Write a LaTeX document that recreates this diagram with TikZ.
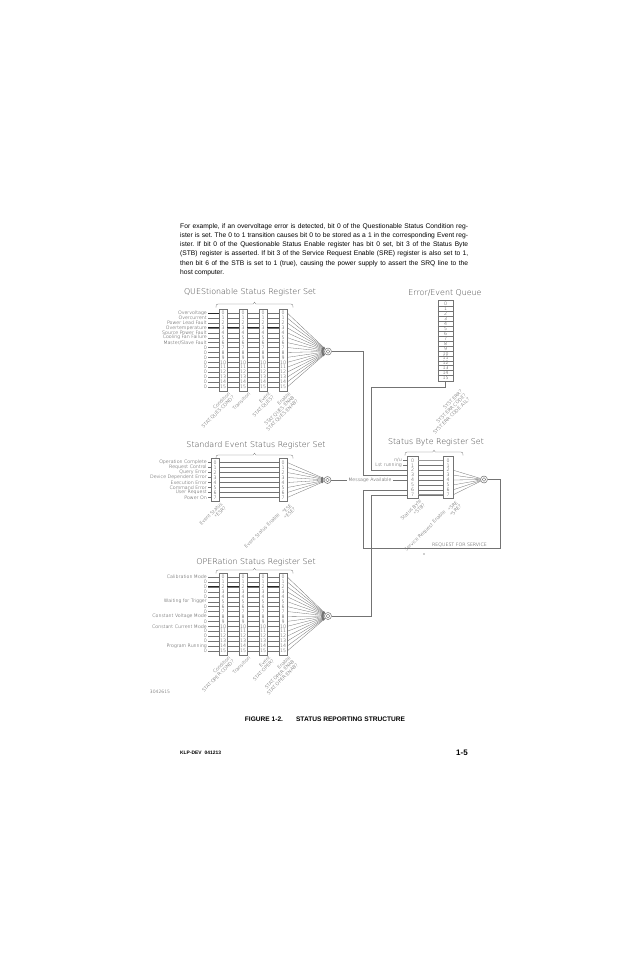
\documentclass[tikz,border=0pt]{standalone}
\usepackage{fontspec}
\setmainfont{Liberation Sans}
\newfontfamily\figfont{DejaVu Sans ExtraLight}
\usetikzlibrary{arrows.meta}
\frenchspacing
\newcommand\mybrk[3]{%
  \draw[lnx] ({#1},{#3+3.5}) .. controls ({#1},{#3+0.6}) .. ({#1+2},{#3}) -- ({(#1+#2)/2-1.2},{#3}) -- ({(#1+#2)/2},{#3-1.8}) -- ({(#1+#2)/2+1.2},{#3}) -- ({#2-2},{#3}) .. controls ({#2},{#3+0.6}) .. ({#2},{#3+3.5});}
\begin{document}
\begin{tikzpicture}[x=1pt,y=-1pt,
  lnx/.style={draw=black!55,line width=0.3pt},
  hvx/.style={draw=black!85,line width=0.9pt},
  gvx/.style={draw=black!40,line width=1.2pt},
  regbox/.style={draw=black!55,line width=0.55pt,inner sep=0pt,minimum width=8pt},
  digx/.style={text=black!80,font=\figfont\fontsize{4.7}{5}\selectfont,inner sep=0pt},
  labx/.style={text=black!80,font=\figfont\fontsize{4.7}{5}\selectfont,inner sep=0pt},
  rlabx/.style={text=black!80,font=\figfont\fontsize{4.7}{5.3}\selectfont,inner sep=0pt,rotate=45,anchor=north east,align=right},
  ttlx/.style={text=black!75,font=\figfont\fontsize{7.9}{9}\selectfont,inner sep=0pt},
  sumcirc/.style={circle,draw=black!60,line width=0.45pt,minimum size=7pt,inner sep=0pt},
  fantip/.style={-{Latex[length=2.6pt,width=1.7pt]}},
  paraline/.style={font=\fontsize{6.7}{9.2}\selectfont,inner sep=0pt,anchor=base west},
]
\fill[white] (0,0) rectangle (618,954);
\useasboundingbox (0,0) rectangle (618,954);

% ---------- paragraph ----------
\node[paraline] (p1) at (180,228.3) {\makebox[288pt][s]{For example, if an overvoltage error is detected, bit 0 of the Questionable Status Condition reg-}};
\node[paraline] (p2) at (180,237.5) {\makebox[288pt][s]{ister is set. The 0 to 1 transition causes bit 0 to be stored as a 1 in the corresponding Event reg-}};
\node[paraline] (p3) at (180,246.7) {\makebox[288pt][s]{ister. If bit 0 of the Questionable Status Enable register has bit 0 set, bit 3 of the Status Byte}};
\node[paraline] (p4) at (180,255.9) {\makebox[288pt][s]{(STB) register is asserted. If bit 3 of the Service Request Enable (SRE) register is also set to 1,}};
\node[paraline] (p5) at (180,265.1) {\makebox[288pt][s]{then bit 6 of the STB is set to 1 (true), causing the power supply to assert the SRQ line to the}};
\node[paraline] (p6) at (180,274.3) {host computer.};

% ---------- titles ----------
\node[ttlx] (tq) at (250,292) {QUEStionable Status Register Set};
\node[ttlx] (te) at (445,293) {Error/Event Queue};
\node[ttlx] (ts) at (256,445) {Standard Event Status Register Set};
\node[ttlx] (tb) at (436,442) {Status Byte Register Set};
\node[ttlx] (to) at (256,562) {OPERation Status Register Set};
\mybrk{216}{293}{304}
\mybrk{216}{293}{455}
\mybrk{216}{293}{570}
\mybrk{405}{463}{452}

% ---------- QUEStionable ----------
\node[sumcirc] (qs) at (328,351.5) {};
\draw[draw=black!60,line width=0.4pt] (qs.center) circle (1.8pt);
\foreach \n/\x in {1/223,2/243,3/263,4/283} \node[regbox,minimum height=82pt] (q\n) at (\x,350) {};
\foreach \k/\t in {0/Overvoltage,1/Overcurrent,2/Power Lead Fault,3/Overtemperature,4/Source Power Fault,5/Cooling Fan Failure,6/{Master/Slave Fault},7/0,8/0,9/0,10/0,11/0,12/0,13/0,14/0,15/0} {
  \pgfmathsetmacro\yy{313+4.93*\k}
  \node[labx,anchor=east] (ql\k) at (207,\yy) {\t};
  \draw[lnx] ([xshift=1pt]ql\k.east) -- (q1.west |- ql\k.east);
  \foreach \n in {1,...,4} \node[digx] (qd\n-\k) at (q\n |- ql\k.east) {\k};
  \draw[lnx] (q1.east |- ql\k.east) -- (q2.west |- ql\k.east)
             (q2.east |- ql\k.east) -- (q3.west |- ql\k.east)
             (q3.east |- ql\k.east) -- (q4.west |- ql\k.east);
  \draw[lnx,fantip] (q4.east |- ql\k.east) -- (qs);
}
\draw[hvx] ([xshift=1pt]ql0.east) -- (q1.west |- ql0.east);
\draw[hvx] ([xshift=1pt]ql3.east) -- (q1.west |- ql3.east)
           (q1.east |- ql3.east) -- (q2.west |- ql3.east)
           (q2.east |- ql3.east) -- (q3.west |- ql3.east)
           (q3.east |- ql3.east) -- (q4.west |- ql3.east);
\node[rlabx] (qc) at ([xshift=1pt]q1.south east) {Condition\\{}STAT:QUES:COND?};
\node[rlabx] (qt) at ([xshift=1pt]q2.south east) {Transition};
\node[rlabx] (qe) at ([xshift=1pt]q3.south east) {Event\\{}STAT:QUES?};
\node[rlabx] (qn) at ([xshift=1pt]q4.south east) {Enable\\{}STAT:QUES:ENAB\\{}STAT:QUES:ENAB?};

% ---------- Error/Event Queue ----------
\node[regbox,minimum width=15pt,minimum height=81pt] (eq) at (445.5,340.5) {};
\foreach \k in {0,...,15} {
  \pgfmathsetmacro\yy{304+4.93*\k}
  \node[digx] (ed\k) at (eq |- 0,\yy) {\k};
}
\foreach \k in {0,...,14} {
  \pgfmathsetmacro\yy{306.47+4.93*\k}
  \draw[lnx] (eq.west |- 0,\yy) -- (eq.east |- 0,\yy);
}
\node[rlabx] (ql) at ([shift={(7,8)}]eq.south east) {SYST:ERR?\\{}SYST:ERR:CODE?\\{}SYST:ERR:CODE:ALL?};

% ---------- Standard Event ----------
\node[sumcirc] (ss) at (327.5,480) {};
\draw[draw=black!60,line width=0.4pt] (ss.center) circle (1.8pt);
\node[regbox,minimum height=43pt] (s1) at (215,480) {};
\node[regbox,minimum height=43pt] (s2) at (283,480) {};
\foreach \k/\t in {0/Operation Complete,1/Request Control,2/Query Error,3/Device Dependent Error,4/Execution Error,5/Command Error,6/User Request,7/Power On} {
  \pgfmathsetmacro\yy{462.5+5*\k}
  \node[labx,anchor=east] (sl\k) at (207,\yy) {\t};
  \draw[lnx] ([xshift=1pt]sl\k.east) -- (s1.west |- sl\k.east);
  \node[digx] (sda\k) at (s1 |- sl\k.east) {\k};
  \node[digx] (sdb\k) at (s2 |- sl\k.east) {\k};
  \draw[lnx] (s1.east |- sl\k.east) -- (s2.west |- sl\k.east);
  \draw[lnx,fantip] (s2.east |- sl\k.east) -- (ss);
}
\node[rlabx] (sc) at ([xshift=1pt]s1.south east) {Event Status\\{}*ESR?};
\node[rlabx] (se) at ([xshift=1pt]s2.south east) {Event Status Enable\ \raisebox{-2pt}{\begin{tabular}[t]{@{}r@{}}*ESE\\{}*ESE?\end{tabular}}};

% ---------- Status Byte ----------
\node[regbox,minimum width=11pt,minimum height=42pt] (sb1) at (412.5,477.55) {};
\node[regbox,minimum width=10pt,minimum height=42pt] (sb2) at (448,477.55) {};
\node[sumcirc] (sr) at (484,479.5) {};
\draw[draw=black!60,line width=0.4pt] (sr.center) circle (1.8pt);
\foreach \k in {0,...,7} {
  \pgfmathsetmacro\yy{460.4+4.9*\k}
  \coordinate (br\k) at (400,\yy);
  \node[digx] (bda\k) at (sb1 |- br\k) {\k};
  \node[digx] (bdb\k) at (sb2 |- br\k) {\k};
  \draw[lnx] (sb1.east |- br\k) -- (sb2.west |- br\k);
}
\foreach \k in {2,...,7} \draw[lnx] (sb2.east |- br\k) -- (sr);
\draw[gvx] (sb1.east |- br0) -- (sb2.west |- br0) (sb1.east |- br7) -- (sb2.west |- br7);
\node[labx,anchor=east] (nu) at (402,460.4) {n/u};
\draw[lnx] ([xshift=1pt]nu.east) -- (sb1.west |- nu.east);
\node[labx,anchor=east] (lr) at (402,465.3) {Lst running};
\draw[lnx] ([xshift=1pt]lr.east) -- (sb1.west |- lr.east);
\node[labx] (ma) at (370,480) {Message Available};
\draw[lnx] (ss) -- ([xshift=-1.5pt]ma.west);
\draw[lnx] ([xshift=1.5pt]ma.east) -- (sb1.west |- ma.east);
\node[rlabx] (bc) at ([xshift=1pt]sb1.south east) {Status Byte\\{}*STB?};
\node[rlabx] (be) at ([xshift=1pt]sb2.south east) {Service Request Enable\ \raisebox{-2pt}{\begin{tabular}[t]{@{}r@{}}*SRE\\{}*SRE?\end{tabular}}};

% ---------- OPERation ----------
\node[sumcirc] (os) at (328,616) {};
\draw[draw=black!60,line width=0.4pt] (os.center) circle (1.8pt);
\foreach \n/\x in {1/223,2/243,3/263,4/283} \node[regbox,minimum height=82pt] (o\n) at (\x,614) {};
\foreach \k/\t in {0/Calibration Mode,1/0,2/0,3/0,4/0,5/Waiting for Trigger,6/0,7/0,8/Constant Voltage Mode,9/0,10/Constant Current Mode,11/0,12/0,13/0,14/Program Running,15/0} {
  \pgfmathsetmacro\yy{577+4.93*\k}
  \node[labx,anchor=east] (ol\k) at (207,\yy) {\t};
  \draw[lnx] ([xshift=1pt]ol\k.east) -- (o1.west |- ol\k.east);
  \foreach \n in {1,...,4} \node[digx] (od\n-\k) at (o\n |- ol\k.east) {\k};
  \draw[lnx] (o1.east |- ol\k.east) -- (o2.west |- ol\k.east)
             (o2.east |- ol\k.east) -- (o3.west |- ol\k.east)
             (o3.east |- ol\k.east) -- (o4.west |- ol\k.east);
  \draw[lnx,fantip] (o4.east |- ol\k.east) -- (os);
}
\draw[hvx] ([xshift=1pt]ol2.east) -- (o1.west |- ol2.east)
           (o1.east |- ol2.east) -- (o2.west |- ol2.east)
           (o2.east |- ol2.east) -- (o3.west |- ol2.east)
           (o3.east |- ol2.east) -- (o4.west |- ol2.east);
\node[rlabx] (oc) at ([xshift=1pt]o1.south east) {Condition\\{}STAT:OPER:COND?};
\node[rlabx] (ot) at ([xshift=1pt]o2.south east) {Transition};
\node[rlabx] (oe) at ([xshift=1pt]o3.south east) {Event\\{}STAT:OPER?};
\node[rlabx] (on) at ([xshift=1pt]o4.south east) {Enable\\{}STAT:OPER:ENAB\\{}STAT:OPER:ENAB?};

% ---------- connectors to Status Byte ----------
\coordinate (jq) at (363,475.1);
\draw[lnx] (qs.east) -| (jq) -- (sb1.west |- jq);
\coordinate (je) at (371,470.2);
\draw[lnx] (eq.south) -- ++(0,6) -| (je) -- (sb1.west |- je);
\coordinate (jo) at (371,494.7);
\draw[lnx] (os.east) -| (jo) -- (sb1.west |- jo);
\coordinate (lpr) at (500,548);
\coordinate (lpl) at (363,548);
\coordinate (jr) at (363,489.8);
\draw[lnx] (sr.east) -| (lpr) -- (lpl) -- (jr) -- (sb1.west |- jr);
\node[labx,anchor=south] (rfs) at (459.5,546.8) {REQUEST FOR SERVICE};
\fill[black!80] (424,554) circle (0.6pt);

% ---------- bottom texts ----------
\node[labx,font=\figfont\fontsize{4.5}{5}\selectfont] (code) at (160,692) {3042615};
\node[font=\bfseries\fontsize{6.6}{8}\selectfont,inner sep=0pt] (cap) at (325,719) {FIGURE 1-2.\hspace{13pt}STATUS REPORTING STRUCTURE};
\node[font=\bfseries\fontsize{4.9}{6}\selectfont,inner sep=0pt,anchor=west] (ft) at (180,753) {KLP-DEV\hspace{3pt}041213};
\node[font=\bfseries\fontsize{8}{9}\selectfont,inner sep=0pt,anchor=east] (pg) at (468,753) {1-5};
\end{tikzpicture}
\end{document}
